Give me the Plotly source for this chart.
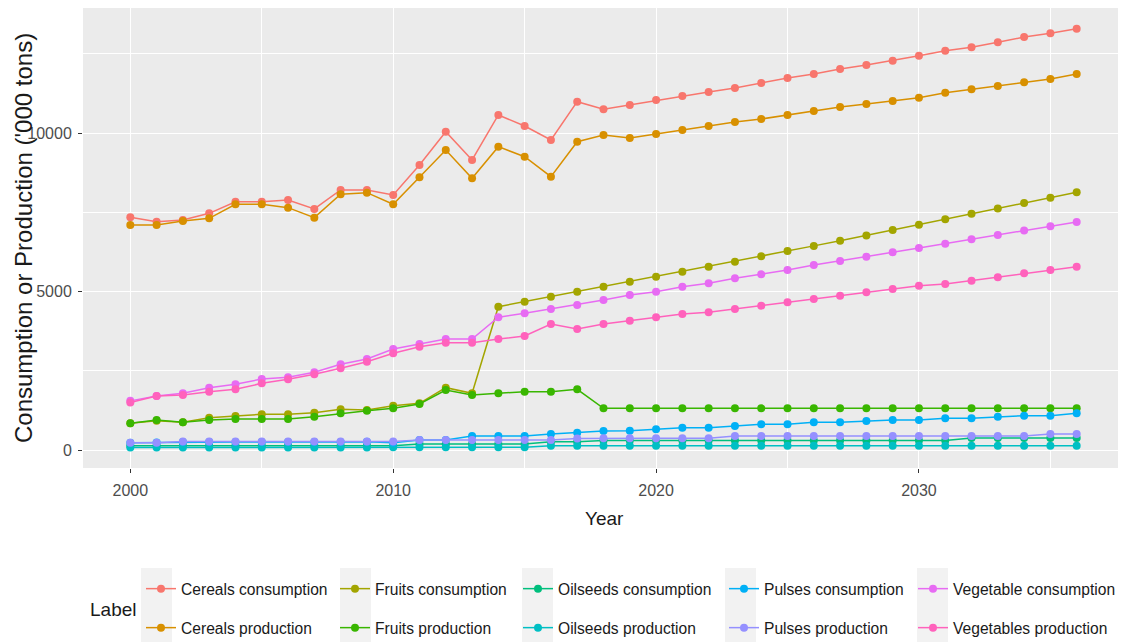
import plotly.graph_objects as go

years = list(range(2000, 2037))

labels = ["Cereals consumption", "Cereals production", "Fruits consumption", "Fruits production",
          "Oilseeds consumption", "Oilseeds production", "Pulses consumption", "Pulses production",
          "Vegetable consumption", "Vegetables production"]
colors = ["#F8766D", "#D89000", "#A3A500", "#39B600", "#00BF7D",
          "#00BFC4", "#00B0F6", "#9590FF", "#E76BF3", "#FF62BC"]

cereals_consumption = [7342, 7203, 7256, 7467, 7834, 7834, 7888, 7604, 8203, 8203,
                       8045, 8992, 10043, 9150, 10570, 10222, 9780, 10989, 10749, 10885,
                       11043, 11169, 11295, 11421, 11579, 11737, 11863, 12021, 12147, 12283,
                       12440, 12598, 12705, 12862, 13030, 13146, 13292]
cereals_production = [7099, 7099, 7225, 7310, 7752, 7752, 7646, 7330, 8067, 8119,
                      7752, 8603, 9465, 8572, 9570, 9254, 8623, 9727, 9938, 9844,
                      9970, 10096, 10222, 10348, 10443, 10569, 10695, 10822, 10916, 11011,
                      11115, 11273, 11380, 11484, 11600, 11705, 11863]
fruits_consumption = [841, 925, 873, 1020, 1073, 1125, 1125, 1178, 1283, 1262,
                      1399, 1472, 1967, 1788, 4522, 4680, 4838, 4995, 5153, 5310,
                      5468, 5626, 5784, 5942, 6110, 6280, 6440, 6600, 6770, 6940,
                      7110, 7280, 7450, 7620, 7790, 7960, 8130]
fruits_production = [841, 946, 873, 946, 978, 978, 978, 1051, 1157, 1241,
                     1314, 1451, 1893, 1735, 1788, 1840, 1840, 1914, 1314, 1314,
                     1314, 1314, 1314, 1314, 1314, 1314, 1314, 1314, 1314, 1314,
                     1314, 1314, 1314, 1314, 1314, 1314, 1314]
oilseeds_consumption = [137, 137, 137, 137, 137, 137, 137, 137, 137, 137,
                        137, 190, 190, 190, 190, 190, 263, 263, 300, 300,
                        300, 300, 300, 300, 300, 300, 300, 300, 300, 300,
                        300, 300, 380, 380, 380, 380, 380]
oilseeds_production = [80, 80, 80, 80, 80, 80, 80, 80, 80, 80,
                       84, 84, 84, 84, 84, 84, 135, 135, 135, 135,
                       135, 135, 135, 135, 135, 135, 135, 135, 135, 135,
                       135, 135, 135, 135, 135, 135, 135]
pulses_consumption = [230, 240, 250, 255, 255, 255, 255, 255, 255, 262,
                      230, 315, 315, 441, 441, 441, 505, 547, 600, 610,
                      652, 705, 705, 757, 810, 810, 873, 873, 915, 946,
                      946, 999, 999, 1051, 1083, 1083, 1157]
pulses_production = [230, 230, 270, 270, 270, 270, 270, 270, 270, 270,
                     270, 315, 315, 315, 315, 315, 315, 360, 368, 368,
                     368, 368, 368, 442, 442, 442, 442, 442, 442, 442,
                     442, 442, 442, 442, 442, 505, 505]
vegetable_consumption = [1550, 1704, 1788, 1967, 2071, 2240, 2293, 2451, 2703, 2871,
                         3187, 3344, 3502, 3502, 4187, 4313, 4449, 4575, 4733, 4890,
                         4995, 5153, 5258, 5416, 5542, 5679, 5837, 5963, 6100, 6237,
                         6374, 6511, 6648, 6785, 6922, 7059, 7196]
vegetables_production = [1500, 1704, 1735, 1840, 1914, 2103, 2230, 2388, 2577, 2787,
                         3050, 3260, 3386, 3386, 3502, 3597, 3975, 3818, 3975, 4080,
                         4185, 4291, 4343, 4449, 4554, 4659, 4764, 4869, 4974, 5080,
                         5185, 5237, 5343, 5448, 5574, 5679, 5784]

series = [cereals_consumption, cereals_production, fruits_consumption, fruits_production,
          oilseeds_consumption, oilseeds_production, pulses_consumption, pulses_production,
          vegetable_consumption, vegetables_production]

x_ticks = [2000, 2010, 2020, 2030]
y_ticks = [0, 5000, 10000]

# the page body has an 8px margin; figure is sized to fit inside the 1126x642 viewport
OFF = 8
W, H = 1126 - OFF, 642 - OFF
# plot panel in figure coordinates
L, R, T, B = 83 - OFF, 1124 - OFF, 0, 468 - OFF
PW, PH = R - L, B - T

def px(x):
    """screen x (reference pixels) -> paper x"""
    return (x - OFF - L) / PW

def py(y):
    """screen y (reference pixels) -> paper y"""
    return (B - (y - OFF)) / PH

FONT = "Liberation Sans, Arial, sans-serif"

fig = go.Figure()

# legend: 5 columns x 2 rows, each entry its own legend
col_text_x = [182, 376, 559, 765, 954]
row_y = [589, 628]
legend_layouts = {}
for i, (lab, col, vals) in enumerate(zip(labels, colors, series)):
    c, r = i // 2, i % 2
    lname = "legend" if i == 0 else f"legend{i + 1}"
    fig.add_trace(go.Scatter(
        x=years, y=vals, mode="lines+markers", name=lab,
        line=dict(color=col, width=1.5),
        marker=dict(color=col, size=8),
        legend=lname,
    ))
    legend_layouts[lname] = dict(
        x=px(col_text_x[c] - 41), y=py(row_y[r]), xanchor="left", yanchor="middle",
        orientation="v", bgcolor="rgba(0,0,0,0)", borderwidth=0,
        font=dict(family=FONT, size=15.6, color="#1A1A1A"), itemwidth=30,
        itemclick=False, itemdoubleclick=False,
    )

shapes = []
key_x = [141, 340, 522, 725, 917]
for kx in key_x:
    shapes.append(dict(type="rect", xref="paper", yref="paper", layer="below",
                       x0=px(kx), x1=px(kx + 31), y0=py(650), y1=py(568),
                       fillcolor="#F2F2F2", line=dict(width=0)))

fig.update_layout(
    width=W, height=H,
    margin=dict(l=L, r=W - R, t=T, b=H - B, pad=0, autoexpand=False),
    paper_bgcolor="white", plot_bgcolor="#EBEBEB",
    showlegend=True,
    shapes=shapes,
    **legend_layouts,
    xaxis=dict(range=[1998.2, 2037.8], tickvals=x_ticks, ticktext=[str(v) for v in x_ticks],
               showgrid=True, gridcolor="white", gridwidth=1.2, zeroline=False,
               minor=dict(tickvals=[2005, 2015, 2025, 2035], showgrid=True, gridcolor="white", gridwidth=0.5, ticks=""),
               ticks="outside", ticklen=4, tickcolor="#333333", tickwidth=1,
               tickfont=dict(family=FONT, size=16, color="#4D4D4D"), ticklabelstandoff=4,
               showline=False),
    yaxis=dict(range=[-568, 13945], tickvals=y_ticks, ticktext=[str(v) for v in y_ticks],
               showgrid=True, gridcolor="white", gridwidth=1.2, zeroline=False,
               minor=dict(tickvals=[2500, 7500, 12500], showgrid=True, gridcolor="white", gridwidth=0.5, ticks=""),
               ticks="outside", ticklen=4, tickcolor="#333333", tickwidth=1,
               tickfont=dict(family=FONT, size=16, color="#4D4D4D"), ticklabelstandoff=3,
               showline=False),
    annotations=[
        dict(text="Year", xref="paper", yref="paper", x=px(604), y=py(519), showarrow=False,
             xanchor="center", yanchor="middle", font=dict(family=FONT, size=19, color="#1A1A1A")),
        dict(text="Consumption or Production ('000 tons)", xref="paper", yref="paper",
             x=px(23), y=py(238), showarrow=False, textangle=-90,
             xanchor="center", yanchor="middle", font=dict(family=FONT, size=24, color="#1A1A1A")),
        dict(text="Label", xref="paper", yref="paper", x=px(88), y=py(609), showarrow=False,
             xanchor="left", yanchor="middle", font=dict(family=FONT, size=19, color="#1A1A1A")),
    ],
)

fig.write_html("out.html")
